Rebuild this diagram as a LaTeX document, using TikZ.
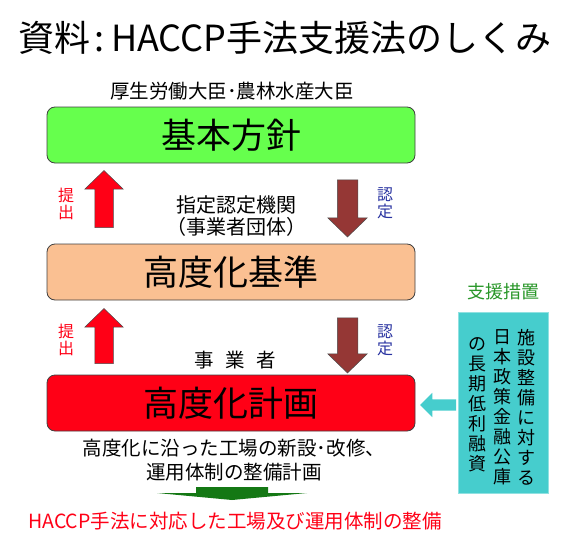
\documentclass[tikz,border=0pt]{standalone}
\usepackage{fontspec}
\setmainfont{Noto Sans CJK JP}
\usetikzlibrary{shapes.arrows}
\definecolor{policygreen}{RGB}{102,255,77}
\definecolor{standardpeach}{RGB}{250,192,146}
\definecolor{planred}{RGB}{255,0,22}
\definecolor{approvebrown}{RGB}{149,55,53}
\definecolor{approveblue}{RGB}{40,50,160}
\definecolor{supportteal}{RGB}{70,205,205}
\definecolor{supportgreen}{RGB}{40,150,40}
\definecolor{resultgreen}{RGB}{20,120,20}
\begin{document}
\begin{tikzpicture}[x=1pt, y=-1pt,
    box/.style={draw=black!75, line width=0.8pt, rounded corners=8pt,
      minimum width=368pt, minimum height=56pt, font=\fontsize{35}{35}\selectfont},
    blockarrow/.style={shape=single arrow, draw=black!70, line width=0.5pt,
      single arrow tip angle=92},
    uparrow/.style={blockarrow, fill=planred, inner sep=9pt,
      single arrow head extend=10pt, shape border rotate=90},
    downarrow/.style={blockarrow, fill=approvebrown, inner sep=10pt,
      single arrow head extend=9.5pt, shape border rotate=270},
    vlabel/.style={align=center, font=\fontsize{16}{17}\selectfont},
    note/.style={align=center, font=\fontsize{19.5}{24}\selectfont},
    vcol/.style={align=center, font=\fontsize{18}{20}\selectfont}]
    \useasboundingbox (0,0) rectangle (567,543);

    \node[font=\fontsize{36}{36}\selectfont] (title) at (285,38) {資料\hspace{0.12em}:\hspace{0.18em}HACCP手法支援法のしくみ};
    \node[font=\fontsize{19.5}{19.5}\selectfont] (minister) at (232,91) {厚生労働大臣･農林水産大臣};

    \node[box, fill=policygreen] (policy) at (231,135) {基本方針};
    \node[box, fill=standardpeach] (standard) at (231,272) {高度化基準};
    \node[box, fill=planred] (plan) at (231,403) {高度化計画};

    \node[uparrow, minimum height=57pt] (submitA) at (104,203.5) {};
    \node[downarrow, minimum height=57pt] (approveA) at (347.5,203.5) {};
    \node[uparrow, minimum height=55pt] (submitB) at (104,340.5) {};
    \node[downarrow, minimum height=55pt] (approveB) at (347.5,340.5) {};

    \node[vlabel, text=planred] (submitAlbl) at (66,203.5) {提\\出};
    \node[vlabel, text=approveblue] (approveAlbl) at (385,203.5) {認\\定};
    \node[vlabel, text=planred] (submitBlbl) at (66,340) {提\\出};
    \node[vlabel, text=approveblue] (approveBlbl) at (385,340) {認\\定};

    \node[note, font=\fontsize{20}{22.5}\selectfont] (agency) at (236,216) {指定認定機関\\（事業者団体）};
    \node[note] (operator) at (235,360) {事\hspace{0.6em}業\hspace{0.6em}者};
    \node[note] (plannote) at (234,460) {高度化に沿った工場の新設･改修、\\運用体制の整備計画};

    % flat arrow down to the result
    \coordinate (result) at (232,487);
    \fill[resultgreen] (result) ++(-36,0) -- ++(72,0) -- ++(0,6) -- ++(39,0)
      -- ++(-75,7) -- ++(-75,-7) -- ++(39,0) -- cycle;
    \node[font=\fontsize{19.5}{19.5}\selectfont, text=planred] (resultlbl) at (235,521)
      {HACCP手法に対応した工場及び運用体制の整備};

    \node[font=\fontsize{18}{18}\selectfont, text=supportgreen] (supportlbl) at (503,292) {支援措置};
    \node[draw=supportteal!60!white, fill=supportteal, minimum width=90pt, minimum height=181pt]
      (support) at (503,402.5) {};
    \node[vcol] (colA) at (526,407) {施\\設\\整\\備\\に\\対\\す\\る};
    \node[vcol] (colB) at (502,407) {日\\本\\政\\策\\金\\融\\公\\庫};
    \node[vcol] (colC) at (477,405) {の\\長\\期\\低\\利\\融\\資};
    \node[shape=single arrow, fill=supportteal, inner sep=5.5pt, single arrow head extend=6.5pt,
      minimum height=36pt, single arrow tip angle=90, shape border rotate=180]
      (loan) at (441,405) {};
\end{tikzpicture}
\end{document}
